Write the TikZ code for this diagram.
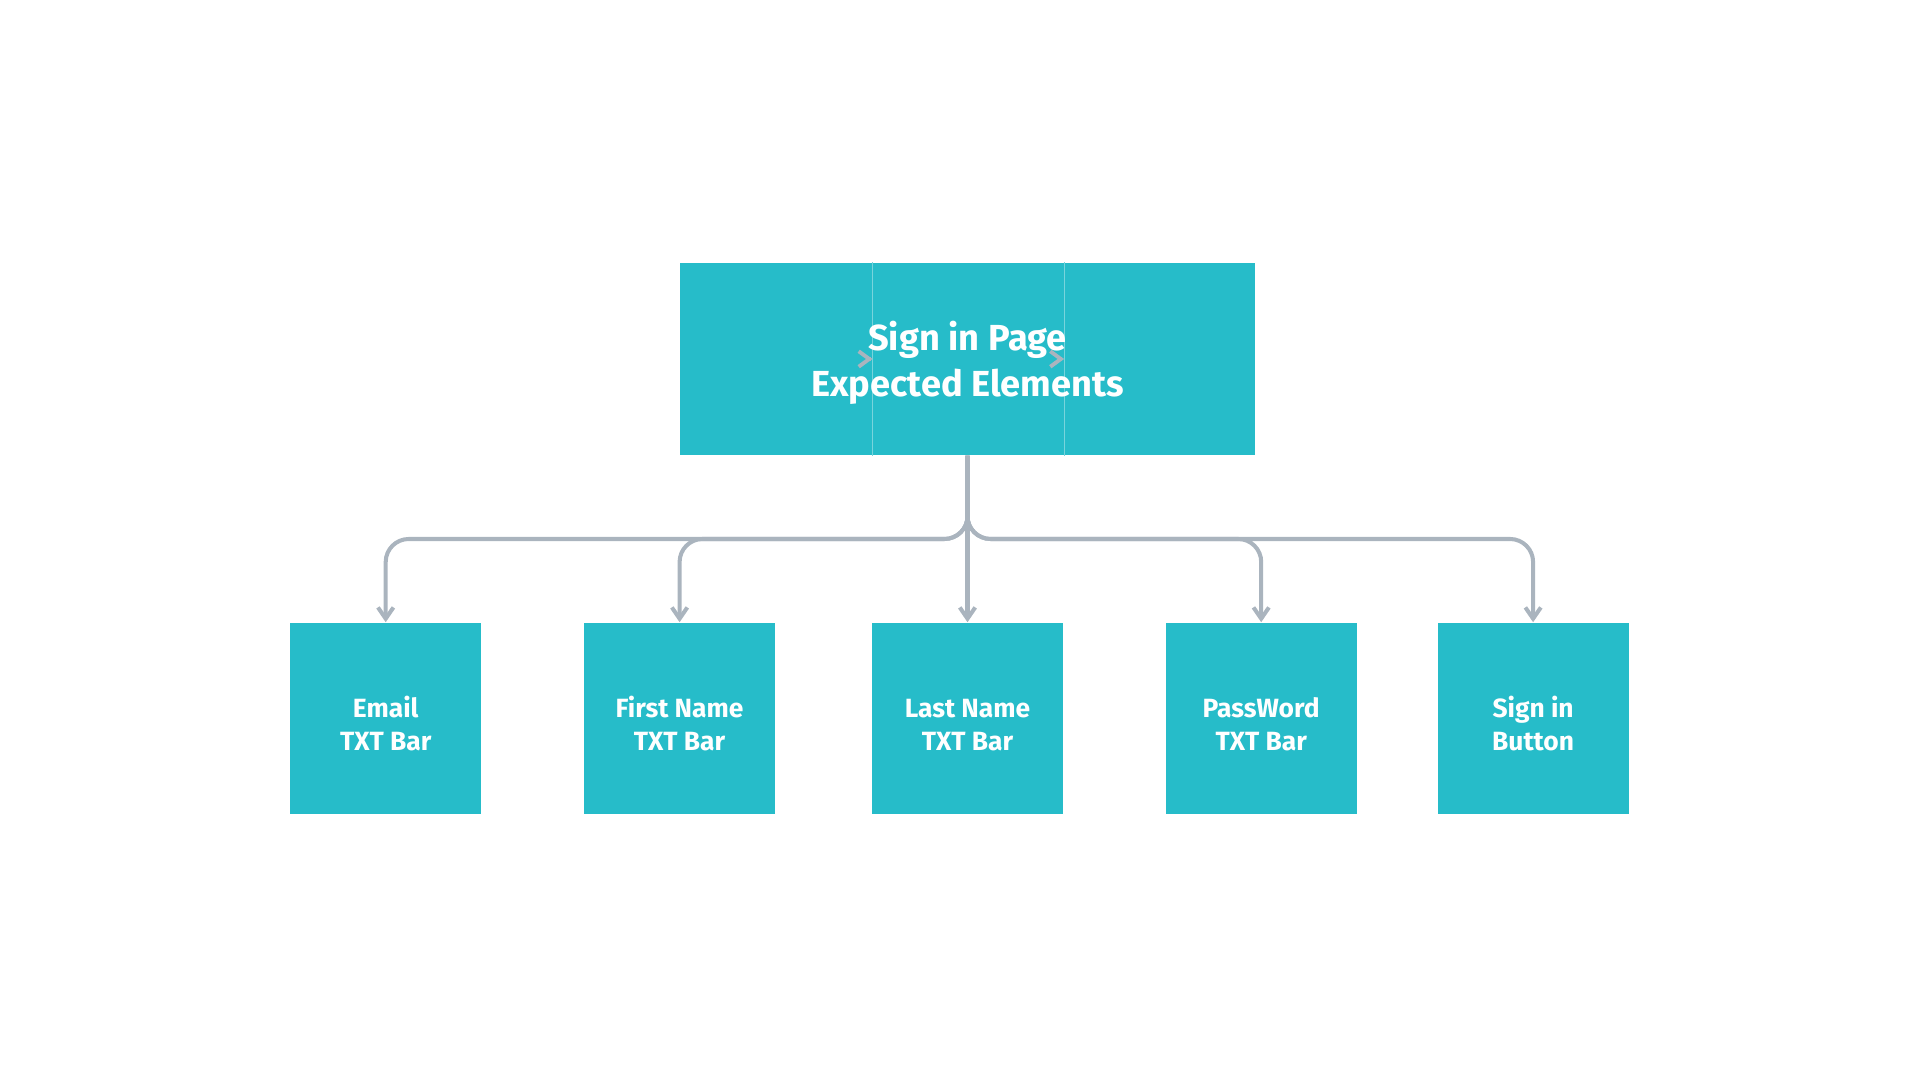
\documentclass[tikz,border=0pt]{standalone}
\usepackage{fontspec}
\setmainfont{Fira Sans}
\usetikzlibrary{arrows.meta}
\definecolor{boxteal}{RGB}{38,188,201}
\definecolor{linkgray}{RGB}{170,180,190}
\definecolor{seamteal}{RGB}{120,212,220}
\newcommand{\tallrow}{\rule{0pt}{9pt}}

\tikzset{
  part/.style={fill=boxteal, minimum width=1.917cm, minimum height=1.92cm, inner sep=0pt},
  elem/.style={fill=boxteal, minimum width=1.91cm, minimum height=1.91cm, inner sep=0pt,
    text=white, align=center, font=\bfseries\fontsize{7.5}{9.2}\selectfont},
  title/.style={text=white, align=center, inner sep=0pt, font=\bfseries\fontsize{10.3}{13.2}\selectfont},
  link/.style={draw=linkgray, line width=1.15pt, rounded corners=0.23cm,
    -{Straight Barb[length=3.2pt, width=4.4pt]}},
  seam/.style={draw=seamteal, line width=0.3pt},
  chev/.style={draw=linkgray, line width=1.1pt, -{Straight Barb[length=3pt, width=4.4pt]}}
}

\begin{document}
\begin{tikzpicture}[x=0.01cm, y=-0.01cm]
            \useasboundingbox (0,0) rectangle (1920,1080);

            \pgfmathsetmacro{\topRow}{359}
            \pgfmathsetmacro{\splitRow}{539}
            \pgfmathsetmacro{\bottomRow}{718.5}

            % top box made of three parts
            \node[part] (tl) at (775.9, \topRow) {};
            \node[part] (tm) at (967.5, \topRow) {};
            \node[part] (tr) at (1159.1, \topRow) {};
            \draw[seam] (tl.north east) -- (tl.south east);
            \draw[seam] (tm.north east) -- (tm.south east);
            \draw[chev] ([xshift=-0.5pt]tl.east) -- (tl.east);
            \draw[chev] ([xshift=-0.5pt]tm.east) -- (tm.east);
            \node[title] (title) at (967.5, 363) {Sign in Page\\Expected Elements};

            % bottom row of elements
            \node[elem] (e1) at (385.7, \bottomRow) {\tallrow Email\\TXT Bar};
            \node[elem] (e2) at (679.6, \bottomRow) {\tallrow First Name\\TXT Bar};
            \node[elem] (e3) at (967.5, \bottomRow) {\tallrow Last Name\\TXT Bar};
            \node[elem] (e4) at (1261.2, \bottomRow) {\tallrow PassWord\\TXT Bar};
            \node[elem] (e5) at (1533.1, \bottomRow) {\tallrow Sign in\\Button};

            % connect the top box to the elements
            \coordinate (split) at (967.5, \splitRow);
            \foreach \i in {1, 2, 4, 5}
            \draw[link] (tm.south) -- (split) -| (e\i.north);
            \draw[link] (tm.south) -- (e3.north);

\end{tikzpicture}
\end{document}
